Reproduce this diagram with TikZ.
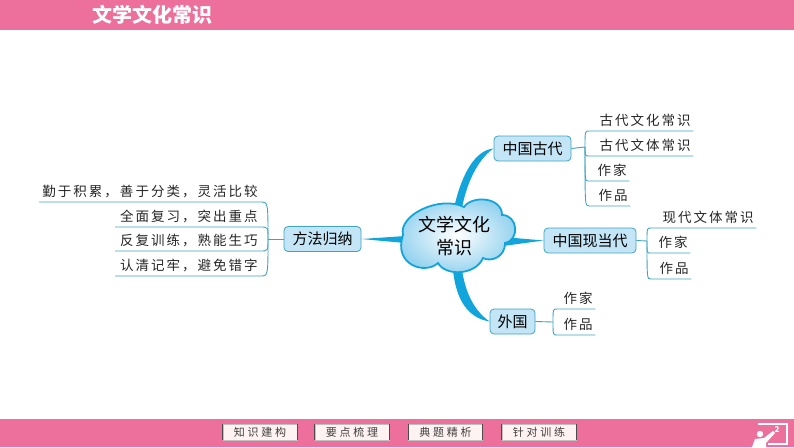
\documentclass[tikz,border=0pt]{standalone}
\usepackage{fontspec}
\setmainfont{Noto Sans CJK SC}
\newfontfamily\leaffont[LetterSpace=15]{Noto Sans CJK SC}
\newfontfamily\btnfont[LetterSpace=25]{Noto Sans CJK SC}
\usetikzlibrary{positioning}
\definecolor{barpink}{HTML}{EC6F9C}
\definecolor{branchblue}{HTML}{12A5DC}
\definecolor{twig}{HTML}{3FA5BE}
\definecolor{boxfill}{HTML}{C3E5F6}
\definecolor{cloudedge}{HTML}{8FD0EE}
\tikzset{
    leaf/.style={anchor=south west, inner xsep=2.5pt, inner ysep=0pt, text width=#1-5pt, align=right,
        text height=11pt, text depth=5pt, font=\leaffont\fontsize{13.5}{14}\selectfont, text=black!85},
    topic/.style={draw=twig, fill=boxfill, rounded corners=4pt, line width=0.8pt, inner sep=0pt,
        minimum height=25pt, font=\fontsize{15}{16}\selectfont, text=black},
    twigline/.style={draw=twig, line width=0.9pt},
    btn/.style={draw=black!25, fill=pink!20, line width=0.7pt, minimum width=74pt, minimum height=16pt,
        inner sep=0pt, font=\btnfont\fontsize{11}{12}\selectfont, text=black!75}
}
\begin{document}
\begin{tikzpicture}[x=1pt, y=-1pt]
    \useasboundingbox (0,0) rectangle (794,447);
    \fill[barpink] (0,0) rectangle (794,30);
    \fill[barpink] (0,419) rectangle (794,447);
    \node[text=white, font=\fontsize{20}{22}\selectfont\bfseries] (title) at (152,15) {文学文化常识};

    % topics
    \node[topic, minimum width=77pt] (gudai) at (532.5,148.5) {中国古代};
    \node[topic, minimum width=92pt] (xiandai) at (590,240.5) {中国现当代};
    \node[topic, minimum width=45pt] (waiguo) at (512.5,321.5) {外国};
    \node[topic, minimum width=77pt] (fangfa) at (322.5,239) {方法归纳};

    % thick branches
    \fill[branchblue] (454,208) .. controls (462,172) and (476,150) .. (gudai.west)
        .. controls (482,156) and (468,176) .. (462,208) -- cycle;
    \fill[branchblue] (503,237) -- (xiandai.west) -- (503,246) -- cycle;
    \fill[branchblue] (453,270) .. controls (456,300) and (468,318) .. (waiguo.west)
        .. controls (476,312) and (466,296) .. (462,270) -- cycle;
    \fill[branchblue] (405,236) -- (fangfa.east) -- (405,243) -- cycle;

    % cloud
    \shadedraw[draw=branchblue, line width=1.8pt, inner color=white, outer color=cloudedge]
        (403,235) .. controls (398,215) and (440,195) .. (464,207)
        .. controls (472,195) and (502,197) .. (502,215)
        .. controls (518,215) and (520,240) .. (505,243)
        .. controls (505,258) and (490,262) .. (483,258)
        .. controls (475,276) and (445,276) .. (438,263)
        .. controls (425,275) and (393,265) .. (403,235) -- cycle;
    \node[align=center, font=\fontsize{18}{23}\selectfont, text=black, inner sep=0pt] (center) at (454,236) {文学文化\\常识};

    % leaves
    \node[leaf=104pt] (a1) at (589,131) {古代文化常识};
    \node[leaf=104pt] (a2) at (589,156) {古代文体常识};
    \node[leaf=41pt]  (a3) at (588,181) {作家};
    \node[leaf=41pt]  (a4) at (589,206) {作品};
    \node[leaf=105pt] (b1) at (651,228) {现代文体常识};
    \node[leaf=40pt]  (b2) at (650,253) {作家};
    \node[leaf=40pt]  (b3) at (651,279) {作品};
    \node[leaf=38pt]  (c1) at (557,309) {作家};
    \node[leaf=38pt]  (c2) at (557,335) {作品};
    \node[leaf=221pt] (d1) at (39,202) {勤于积累，善于分类，灵活比较};
    \node[leaf=145pt] (d2) at (115,227) {全面复习，突出重点};
    \node[leaf=145pt] (d3) at (115,251) {反复训练，熟能生巧};
    \node[leaf=145pt] (d4) at (115,276) {认清记牢，避免错字};

    % twigs
    \coordinate (ja) at (585,147);
    \coordinate (jb) at (647,241);
    \coordinate (jc) at (553,322);
    \coordinate (jd) at (268,239);
    \draw[twigline] (gudai.east) -- (ja);
    \draw[twigline] (xiandai.east) -- (jb);
    \draw[twigline] (waiguo.east) -- (jc);
    \draw[twigline] (fangfa.west) -- (jd);
    \foreach \leafname in {a1,a2,a3,a4}
        \draw[twigline] (ja) .. controls (ja |- \leafname.south west) .. (\leafname.south west) -- (\leafname.south east);
    \foreach \leafname in {b1,b2,b3}
        \draw[twigline] (jb) .. controls (jb |- \leafname.south west) .. (\leafname.south west) -- (\leafname.south east);
    \foreach \leafname in {c1,c2}
        \draw[twigline] (jc) .. controls (jc |- \leafname.south west) .. (\leafname.south west) -- (\leafname.south east);
    \foreach \leafname in {d1,d2,d3,d4}
        \draw[twigline] (jd) .. controls (jd |- \leafname.south east) .. (\leafname.south east) -- (\leafname.south west);

    % bottom bar
    \node[btn] (btn1) at (260,432) {知识建构};
    \node[btn] (btn2) at (352,432) {要点梳理};
    \node[btn] (btn3) at (445.5,432) {典题精析};
    \node[btn] (btn4) at (539,432) {针对训练};
    \foreach \btnname in {btn1,btn2,btn3,btn4} {
        \draw[black!70, line width=1pt] (\btnname.north west) -- (\btnname.south west);
        \draw[black!70, line width=1pt] (\btnname.north east) -- (\btnname.south east);
    }

    % page icon
    \draw[white, line width=1.2pt] (758,424) -- (787,424) -- (787,444) -- (768,444);
    \fill[white] (760,434) circle (3.2pt);
    \fill[white] (752,447) -- (755,439) -- (764,438) -- (773,431) -- (775,433) -- (766,443) -- (766,447) -- cycle;
    \node[text=white, inner sep=0pt, font=\fontsize{8}{8}\selectfont\bfseries] (page) at (777,430) {2};
\end{tikzpicture}
\end{document}
